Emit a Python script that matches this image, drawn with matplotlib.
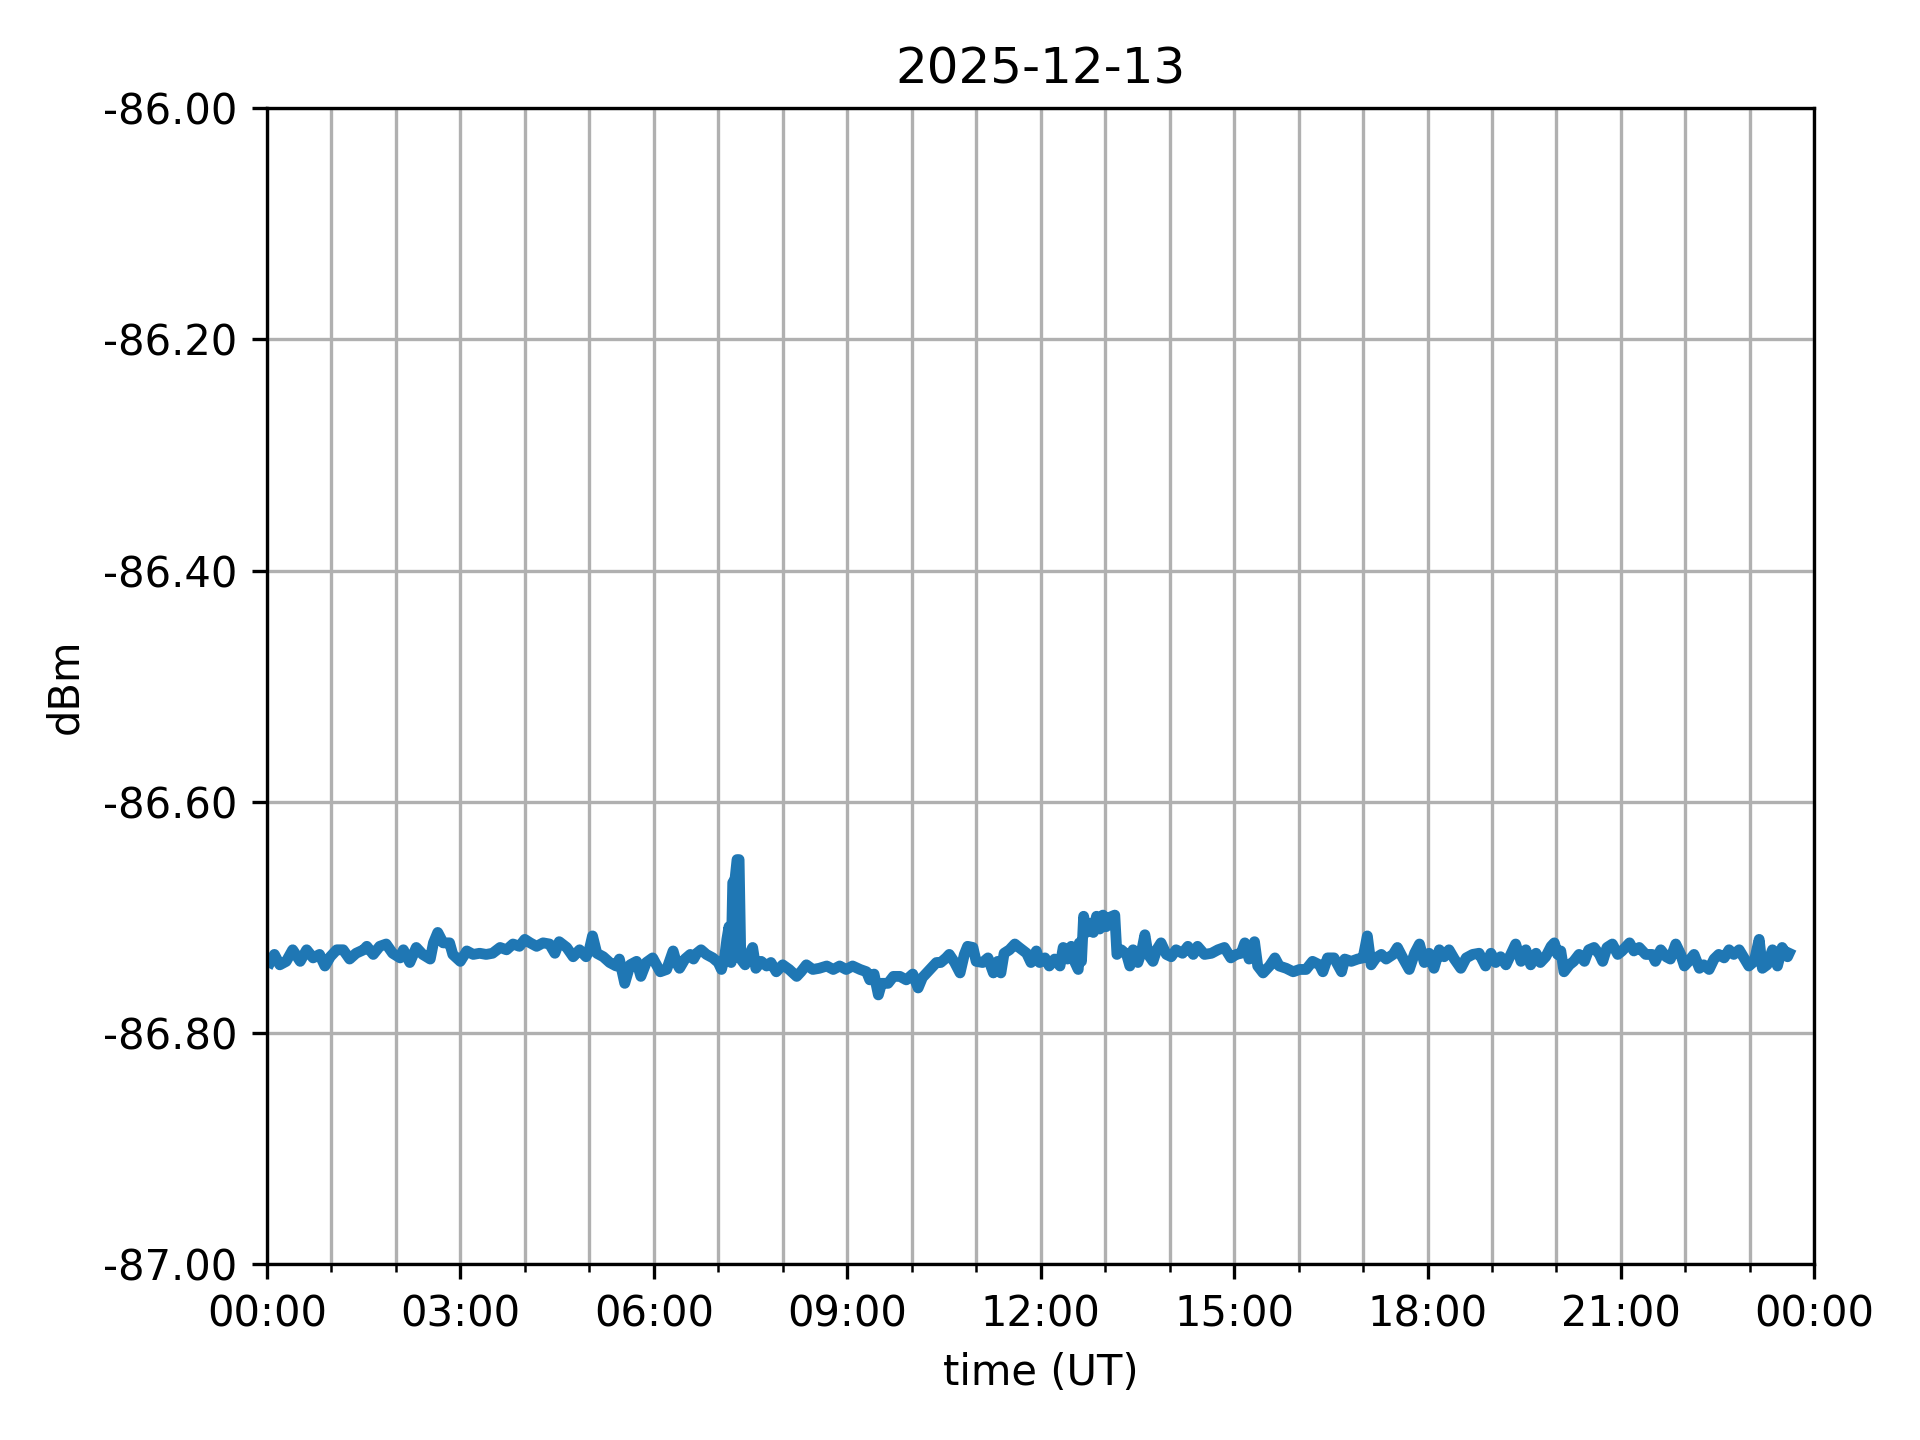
import matplotlib
matplotlib.use("Agg")
import matplotlib.dates as mdates
import matplotlib.pyplot as plt
import numpy as np
import pandas as pd
from matplotlib.ticker import FormatStrFormatter


DAY = "2025-12-13"

# minutes after 00:00 UT
minutes = [
    3, 7, 12, 18, 24, 31, 37, 43, 49, 54, 59, 65, 71, 77, 83, 90, 93, 99, 105, 111,
    117, 124, 127, 133, 139, 145, 152, 155, 159, 164, 170, 173, 180, 186, 192, 198,
    204, 210, 217, 223, 229, 235, 240, 245, 251, 257, 263, 268, 272, 279, 285, 291,
    297, 300, 303, 307, 313, 319, 325, 328, 333, 338, 344, 348, 353, 359, 366, 372,
    378, 381, 384, 389, 394, 397, 400, 404, 409, 415, 420, 423, 426, 428, 430, 432,
    433.5, 435.6, 437.5, 439.4, 441, 445, 448, 452, 455, 460, 465, 469, 474, 480,
    486, 493, 497, 502, 508, 514, 521, 527, 533, 539, 545, 552, 558, 561, 565, 569,
    572, 578, 583, 589, 595, 601, 606, 610, 617, 623, 627, 632, 635, 640, 645, 649,
    652, 657, 660, 666, 671, 676, 680, 683, 686, 691, 696, 700, 707, 711, 716, 719,
    724, 728, 733, 738, 741, 745, 748.5, 752, 755, 756, 758, 760, 762.5, 766, 769,
    772, 775, 778, 781, 784, 789, 791, 795, 800, 803, 806, 810.5, 814, 817, 820,
    824.5, 828, 832, 837, 841.5, 846, 852, 857, 862, 866, 872.5, 879, 885, 891, 897,
    902, 906.6, 910, 914, 919, 922, 927, 933, 938, 942, 948.5, 955, 961, 967, 973,
    979.5, 982.6, 987, 993, 1000, 1003, 1009, 1015, 1020, 1024, 1027.5, 1032, 1037,
    1041.5, 1048, 1052, 1057, 1063, 1068, 1072.5, 1077, 1081.5, 1086, 1091, 1095.5,
    1100, 1105, 1111, 1116, 1122, 1128, 1134, 1139, 1143.5, 1148, 1153, 1157.5,
    1162, 1167, 1171.5, 1176, 1181, 1185, 1190, 1195, 1198, 1201, 1204, 1207, 1212,
    1216, 1221, 1226, 1230, 1235, 1240, 1243, 1247, 1252, 1257, 1261, 1268, 1272,
    1277, 1283, 1289, 1292, 1297, 1302, 1306, 1311, 1315.6, 1319, 1323, 1328, 1333,
    1337, 1342, 1346.6, 1351, 1356, 1360.6, 1365, 1370, 1374.5, 1379, 1384, 1388.6,
    1391.6, 1396, 1401, 1405.6, 1410, 1415, 1416.5,
]

dbm = [
    -86.739, -86.732, -86.741, -86.738, -86.728, -86.738, -86.728, -86.735, -86.732, -86.742,
    -86.734, -86.728, -86.728, -86.736, -86.731, -86.728, -86.725, -86.732, -86.725, -86.723,
    -86.731, -86.735, -86.728, -86.739, -86.726, -86.732, -86.736, -86.722, -86.713, -86.722,
    -86.722, -86.732, -86.738, -86.729, -86.732, -86.731, -86.732, -86.731, -86.726, -86.728,
    -86.723, -86.725, -86.719, -86.722, -86.725, -86.722, -86.723, -86.731, -86.721, -86.726,
    -86.734, -86.728, -86.734, -86.728, -86.716, -86.731, -86.734, -86.739, -86.742, -86.736,
    -86.757, -86.741, -86.738, -86.751, -86.739, -86.735, -86.747, -86.745, -86.729, -86.739,
    -86.744, -86.736, -86.732, -86.736, -86.731, -86.728, -86.732, -86.735, -86.739, -86.745,
    -86.734, -86.719, -86.708, -86.739, -86.670, -86.667, -86.650, -86.650, -86.736, -86.741,
    -86.734, -86.726, -86.744, -86.738, -86.742, -86.739, -86.747, -86.741, -86.745, -86.751,
    -86.747, -86.741, -86.745, -86.744, -86.742, -86.745, -86.742, -86.745, -86.742, -86.745,
    -86.747, -86.754, -86.749, -86.767, -86.757, -86.757, -86.751, -86.751, -86.754, -86.749,
    -86.761, -86.752, -86.745, -86.739, -86.739, -86.735, -86.732, -86.739, -86.748, -86.732,
    -86.725, -86.726, -86.738, -86.739, -86.735, -86.748, -86.738, -86.748, -86.731, -86.728,
    -86.723, -86.726, -86.731, -86.739, -86.729, -86.739, -86.735, -86.742, -86.736, -86.742,
    -86.726, -86.736, -86.725, -86.739, -86.745, -86.722, -86.738, -86.699, -86.713, -86.705,
    -86.713, -86.699, -86.710, -86.698, -86.708, -86.700, -86.698, -86.732, -86.728, -86.732,
    -86.742, -86.728, -86.739, -86.729, -86.715, -86.732, -86.738, -86.728, -86.722, -86.732,
    -86.734, -86.728, -86.731, -86.725, -86.732, -86.725, -86.732, -86.731, -86.728, -86.726,
    -86.735, -86.732, -86.731, -86.722, -86.736, -86.721, -86.742, -86.748, -86.742, -86.735,
    -86.742, -86.744, -86.747, -86.745, -86.745, -86.738, -86.741, -86.747, -86.735, -86.735,
    -86.747, -86.736, -86.738, -86.736, -86.735, -86.716, -86.741, -86.735, -86.732, -86.736,
    -86.732, -86.726, -86.735, -86.745, -86.731, -86.723, -86.739, -86.731, -86.744, -86.728,
    -86.734, -86.728, -86.736, -86.744, -86.735, -86.732, -86.731, -86.742, -86.731, -86.739,
    -86.734, -86.741, -86.732, -86.723, -86.738, -86.728, -86.741, -86.731, -86.739, -86.734,
    -86.725, -86.722, -86.732, -86.729, -86.747, -86.741, -86.738, -86.732, -86.738, -86.728,
    -86.726, -86.732, -86.738, -86.726, -86.723, -86.732, -86.729, -86.722, -86.729, -86.726,
    -86.732, -86.732, -86.738, -86.728, -86.734, -86.736, -86.723, -86.732, -86.742, -86.738,
    -86.732, -86.744, -86.741, -86.745, -86.736, -86.732, -86.735, -86.728, -86.732, -86.728,
    -86.735, -86.742, -86.738, -86.719, -86.744, -86.741, -86.728, -86.742, -86.726, -86.734,
    -86.731,
]


def main():
    start = pd.Timestamp(DAY)
    times = start + pd.to_timedelta(np.array(minutes), unit="m")

    fig = plt.figure(figsize=(6.4, 4.8), dpi=300)
    ax = fig.add_axes([0.139, 0.122, 0.806, 0.803])

    # the original trace is dense, so a slightly heavier line gives the same band
    ax.plot(times, dbm, color="#1f77b4", linewidth=2.6)

    ax.set_xlim(start, start + pd.Timedelta(days=1))
    ax.set_ylim(-87.0, -86.0)
    ax.yaxis.set_major_formatter(FormatStrFormatter("%.2f"))

    ax.xaxis.set_major_locator(mdates.HourLocator(byhour=range(0, 24, 3)))
    ax.xaxis.set_minor_locator(mdates.HourLocator())
    ax.xaxis.set_major_formatter(mdates.DateFormatter("%H:%M"))

    ax.grid(True, which="both")

    ax.set_title(DAY)
    ax.set_xlabel("time (UT)")
    ax.set_ylabel("dBm")

    fig.savefig("out.png", dpi=300)
    plt.close(fig)


if __name__ == "__main__":
    main()
